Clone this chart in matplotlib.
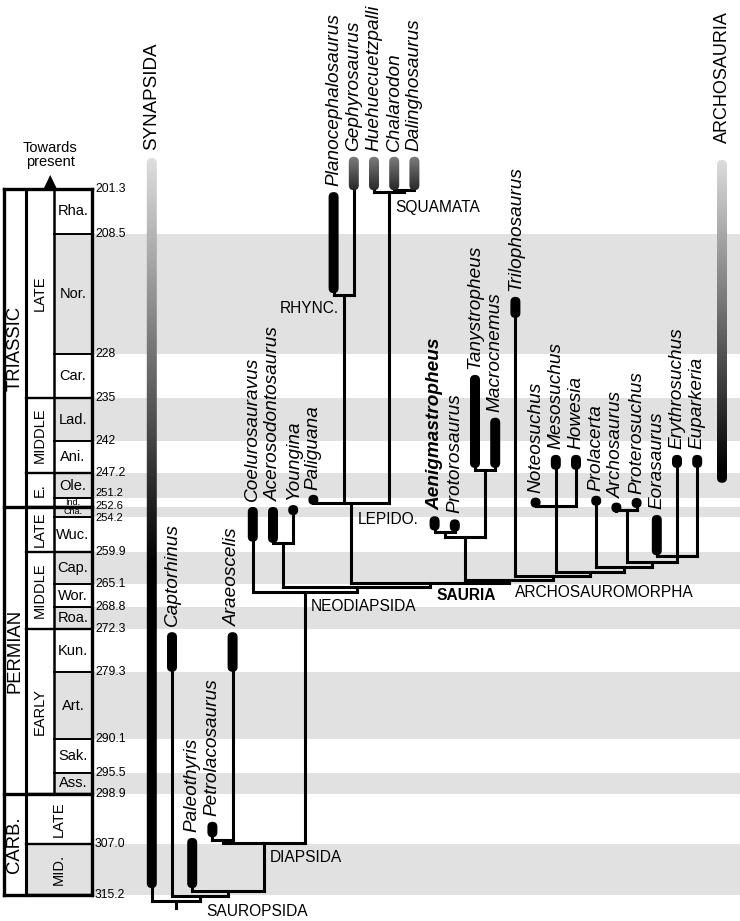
import numpy as np
import matplotlib
matplotlib.use("Agg")
import matplotlib.pyplot as plt
from matplotlib.patches import FancyBboxPatch
from matplotlib.transforms import IdentityTransform

plt.rcParams["font.family"] = "Liberation Sans"

# ---- geological time scale (Ma) ----
stage_names = ["Rha.", "Nor.", "Car.", "Lad.", "Ani.", "Ole.", "Ind.", "Cha.",
               "Wuc.", "Cap.", "Wor.", "Roa.", "Kun.", "Art.", "Sak.", "Ass."]
stage_tops = [201.3, 208.5, 228, 235, 242, 247.2, 251.2, 252.6,
              254.2, 259.9, 265.1, 268.8, 272.3, 279.3, 290.1, 295.5]
stage_bases = [208.5, 228, 235, 242, 247.2, 251.2, 252.6, 254.2,
               259.9, 265.1, 268.8, 272.3, 279.3, 290.1, 295.5, 298.9]
stage_shaded = [0, 1, 0, 1, 0, 1, 0, 1, 0, 1, 0, 1, 0, 1, 0, 1]

epoch_names = ["LATE", "MIDDLE", "E.", "LATE", "MIDDLE", "EARLY", "LATE", "MID."]
epoch_tops = [201.3, 235, 247.2, 252.6, 259.9, 272.3, 298.9, 307.0]
epoch_bases = [235, 247.2, 252.6, 259.9, 272.3, 298.9, 307.0, 315.2]
epoch_shaded = [0, 0, 0, 0, 0, 0, 0, 1]

period_names = ["TRIASSIC", "PERMIAN", "CARB."]
period_tops = [201.3, 252.6, 298.9]
period_bases = [252.6, 298.9, 315.2]

tick_labels = ["201.3", "208.5", "228", "235", "242", "247.2", "251.2", "252.6", "254.2",
               "259.9", "265.1", "268.8", "272.3", "279.3", "290.1", "295.5", "298.9",
               "307.0", "315.2"]

# ---- taxa (left to right), visible stratigraphic range in Ma ----
tip_names = ["Captorhinus", "Paleothyris", "Petrolacosaurus", "Araeoscelis",
             "Coelurosauravus", "Acerosodontosaurus", "Youngina", "Paliguana",
             "Planocephalosaurus", "Gephyrosaurus", "Huehuecuetzpalli", "Chalarodon",
             "Dalinghosaurus", "Aenigmastropheus", "Protorosaurus", "Tanystropheus",
             "Macrocnemus", "Trilophosaurus", "Noteosuchus", "Mesosuchus", "Howesia",
             "Prolacerta", "Archosaurus", "Proterosuchus", "Eorasaurus",
             "Erythrosuchus", "Euparkeria"]
tip_young = [272.8, 306.0, 303.4, 272.8, 252.6, 252.6, 252.4, 250.9, 201.8,
             196.1, 196.1, 196.1, 196.1, 254.1, 254.6, 231.3, 238.2, 218.7,
             251.3, 244.2, 244.2, 251.0, 252.2, 251.4, 253.9, 244.2, 244.2]
tip_old = [279.2, 314.1, 305.9, 279.2, 258.2, 258.4, 253.8, 252.0, 218.1,
           201.5, 201.5, 201.5, 201.5, 256.4, 256.6, 246.3, 246.3, 222.1,
           252.5, 246.6, 246.6, 252.2, 253.2, 252.5, 260.4, 246.3, 246.3]
tip_fades = ["Gephyrosaurus", "Huehuecuetzpalli", "Chalarodon", "Dalinghosaurus"]

# internal nodes: (name, children, age in Ma)
nodes = [
    ("Araeoscelidia", ["Petrolacosaurus", "Araeoscelis"], 306.3),
    ("AY", ["Acerosodontosaurus", "Youngina"], 258.4),
    ("CD", ["Chalarodon", "Dalinghosaurus"], 201.45),
    ("Squamata", ["Huehuecuetzpalli", "CD"], 201.8),
    ("Rhync", ["Planocephalosaurus", "Gephyrosaurus"], 218.4),
    ("Lepido", ["Paliguana", "Rhync", "Squamata"], 251.95),
    ("AP", ["Aenigmastropheus", "Protorosaurus"], 256.6),
    ("Tany", ["Tanystropheus", "Macrocnemus"], 246.6),
    ("Prot", ["AP", "Tany"], 257.4),
    ("Rhynchosauria", ["Noteosuchus", "Mesosuchus", "Howesia"], 252.4),
    ("A2", ["Archosaurus", "Proterosuchus"], 253.1),
    ("A1", ["Eorasaurus", "Erythrosuchus", "Euparkeria"], 260.5),
    ("A3", ["A2", "A1"], 261.5),
    ("A4", ["Prolacerta", "A3"], 262.3),
    ("A5", ["Rhynchosauria", "A4"], 263.1),
    ("A6", ["Trilophosaurus", "A5"], 263.7),
    ("Archosauromorpha", ["Prot", "A6"], 264.4),
    ("Sauria", ["Lepido", "Archosauromorpha"], 264.9),
    ("NX", ["AY", "Sauria"], 265.5),
    ("Neodiapsida", ["Coelurosauravus", "NX"], 266.3),
    ("Diapsida", ["Araeoscelidia", "Neodiapsida"], 306.8),
    ("N3", ["Paleothyris", "Diapsida"], 314.6),
    ("Sauropsida", ["Captorhinus", "N3"], 315.4),
    ("Amniota", ["Synapsida", "Sauropsida"], 316.2),
]
root_base = 317.3
synapsida_range = (196.3, 314.1)
archosauria_range = (196.6, 248.7)

clade_labels = [("SAUROPSIDA", "Sauropsida"), ("DIAPSIDA", "Diapsida"),
                ("NEODIAPSIDA", "Neodiapsida"), ("LEPIDO.", "Lepido"),
                ("RHYNC.", "Rhync"), ("SQUAMATA", "Squamata"),
                ("SAURIA", "Sauria"), ("ARCHOSAUROMORPHA", "Archosauromorpha")]

# ---- figure: x in taxon slots, y in Ma ----
W, H = 740, 921
def X(px): return (px - 172) / 20.2
def T(py): return 201.3 + (py - 189) / 6.198
def dT(dpx): return dpx / 6.198

fig = plt.figure(figsize=(W / 100, H / 100), dpi=100)
ax = fig.add_axes([0, 0, 1, 1])
XL, YL = (X(0), X(W)), (T(H), T(0))
ax.set_xlim(*XL); ax.set_ylim(*YL); ax.axis("off")

GREY = "#e1e1e1"
LW = 2.2          # tree lines, pt
BAR_PX = 10       # range bar width, px

# ---- shading ----
for t, b, s in zip(stage_tops, stage_bases, stage_shaded):
    if s:
        ax.axhspan(t, b, xmin=54 / W, xmax=1, color=GREY, lw=0, zorder=0)
for t, b, s in zip(epoch_tops, epoch_bases, epoch_shaded):
    if s:
        ax.axhspan(t, b, xmin=26 / W, xmax=1, color=GREY, lw=0, zorder=0)

# ---- stratigraphic column ----
def hline(y, x1, x2, lw):
    ax.plot([X(x1), X(x2)], [y, y], color="k", lw=lw, solid_capstyle="projecting", zorder=1)

for t, b, name in zip(stage_tops, stage_bases, stage_names):
    hline(b, 54, 92, 1.4)
    small = name in ("Ind.", "Cha.")
    ax.text(X(73), (t + b) / 2, name, ha="center", va="center",
            fontsize=6.5 if small else 10.5, zorder=2)
for t, b, name in zip(epoch_tops, epoch_bases, epoch_names):
    hline(b, 26, 92, 1.7)
    xc = 59 if t >= 298.9 else 40
    ax.text(X(xc), (t + b) / 2, name, ha="center", va="center", rotation=90, fontsize=10.5)
for t, b, name in zip(period_tops, period_bases, period_names):
    hline(b, 4, 92, 2.4)
    ax.text(X(15), (t + b) / 2, name, ha="center", va="center", rotation=90, fontsize=13.3)
hline(201.3, 4, 92, 2.4)
ax.plot([X(4), X(4)], [201.3, 315.2], color="k", lw=2.4, zorder=1)
ax.plot([X(92), X(92)], [201.3, 315.2], color="k", lw=2.4, zorder=1)
ax.plot([X(26), X(26)], [201.3, 315.2], color="k", lw=2.2, zorder=1)
ax.plot([X(54), X(54)], [201.3, 298.9], color="k", lw=1.8, zorder=1)

nudge = {"251.2": -5, "252.6": -1, "254.2": 1.5}
for lab in tick_labels:
    ax.text(X(95), float(lab) + dT(nudge.get(lab, 0)), lab, ha="left", va="center",
            fontsize=8 if lab in nudge else 8.8)

ax.fill([X(43.5), X(57), X(50.2)], [201.3, 201.3, T(175)], color="k", lw=0)
ax.text(X(50), T(155), "Towards\npresent", ha="center", va="center", fontsize=10.5, linespacing=1.0)

# ---- range bars (rounded, optionally fading upwards) ----
def bar(x, top, bot, fade=None):
    (x0, y_hi), (x1, y_lo) = ax.transData.transform([(x, top), (x, bot)])
    h = max(y_hi - y_lo, BAR_PX)
    yc = (y_hi + y_lo) / 2
    box = FancyBboxPatch((x0 - BAR_PX / 2, yc - h / 2), BAR_PX, h,
                         boxstyle="round,pad=0,rounding_size=%g" % (BAR_PX / 2),
                         transform=IdentityTransform(), lw=0,
                         facecolor="k" if fade is None else "none", zorder=3)
    if fade is None:
        ax.add_artist(box)
        return
    g_top, g_bot, g_end = fade
    ys = np.linspace(top, bot, 200)
    g = np.clip(g_top + (g_bot - g_top) * (ys - top) / (g_end - top), 0, 1)
    hw = BAR_PX / 20.2 / 2 + 0.05
    im = ax.imshow(g[:, None], extent=(x - hw, x + hw, bot + 1, top - 1), origin="upper",
                   cmap="gray", vmin=0, vmax=1, aspect="auto", interpolation="bilinear", zorder=3)
    im.set_clip_path(box)

# ---- tree ----
pos = {n: i for i, n in enumerate(tip_names)}
base = {n: o for n, o in zip(tip_names, tip_old)}
pos["Synapsida"] = -1
base["Synapsida"] = synapsida_range[1]

def seg(xs, ys):
    ax.plot(xs, ys, color="k", lw=LW, solid_capstyle="projecting", zorder=2)

for name, kids, a in nodes:
    xs = [pos[k] for k in kids]
    for k in kids:
        seg([pos[k], pos[k]], [base[k], a])
    seg([min(xs), max(xs)], [a, a])
    pos[name] = (min(xs) + max(xs)) / 2
    base[name] = a
seg([pos["Amniota"]] * 2, [base["Amniota"], root_base])

for i, (n, y, o) in enumerate(zip(tip_names, tip_young, tip_old)):
    bar(i, y, o, fade=(0.55, 0.1, o) if n in tip_fades else None)
    ax.text(i, y - dT(6), n, rotation=90, ha="center", va="bottom", fontsize=13.7,
            style="italic", fontweight="bold" if n == "Aenigmastropheus" else "normal", zorder=5)

bar(-1, *synapsida_range, fade=(0.88, 0.0, 262))
bar(X(722), *archosauria_range, fade=(0.88, 0.0, 246))
ax.text(-1, synapsida_range[0] - dT(8), "SYNAPSIDA", rotation=90, ha="center", va="bottom", fontsize=13.5)
ax.text(X(722), archosauria_range[0] - dT(17), "ARCHOSAURIA", rotation=90, ha="center", va="bottom", fontsize=13)

# ---- clade labels ----
for text, node in clade_labels:
    x, y = pos[node], base[node]
    if node == "Rhync":
        ax.text(x - 5 / 20.2, y + dT(14), text, ha="right", va="center", fontsize=11.2)
    else:
        dy = 17 if node == "Lepido" else (12 if node in ("Sauria", "Archosauromorpha") else 15)
        ax.text(x + 6 / 20.2, y + dT(dy), text, ha="left", va="center", fontsize=11.2,
                fontweight="bold" if node == "Sauria" else "normal")

ax.set_xlim(*XL); ax.set_ylim(*YL)
fig.savefig("out.png", dpi=100, facecolor="white")
